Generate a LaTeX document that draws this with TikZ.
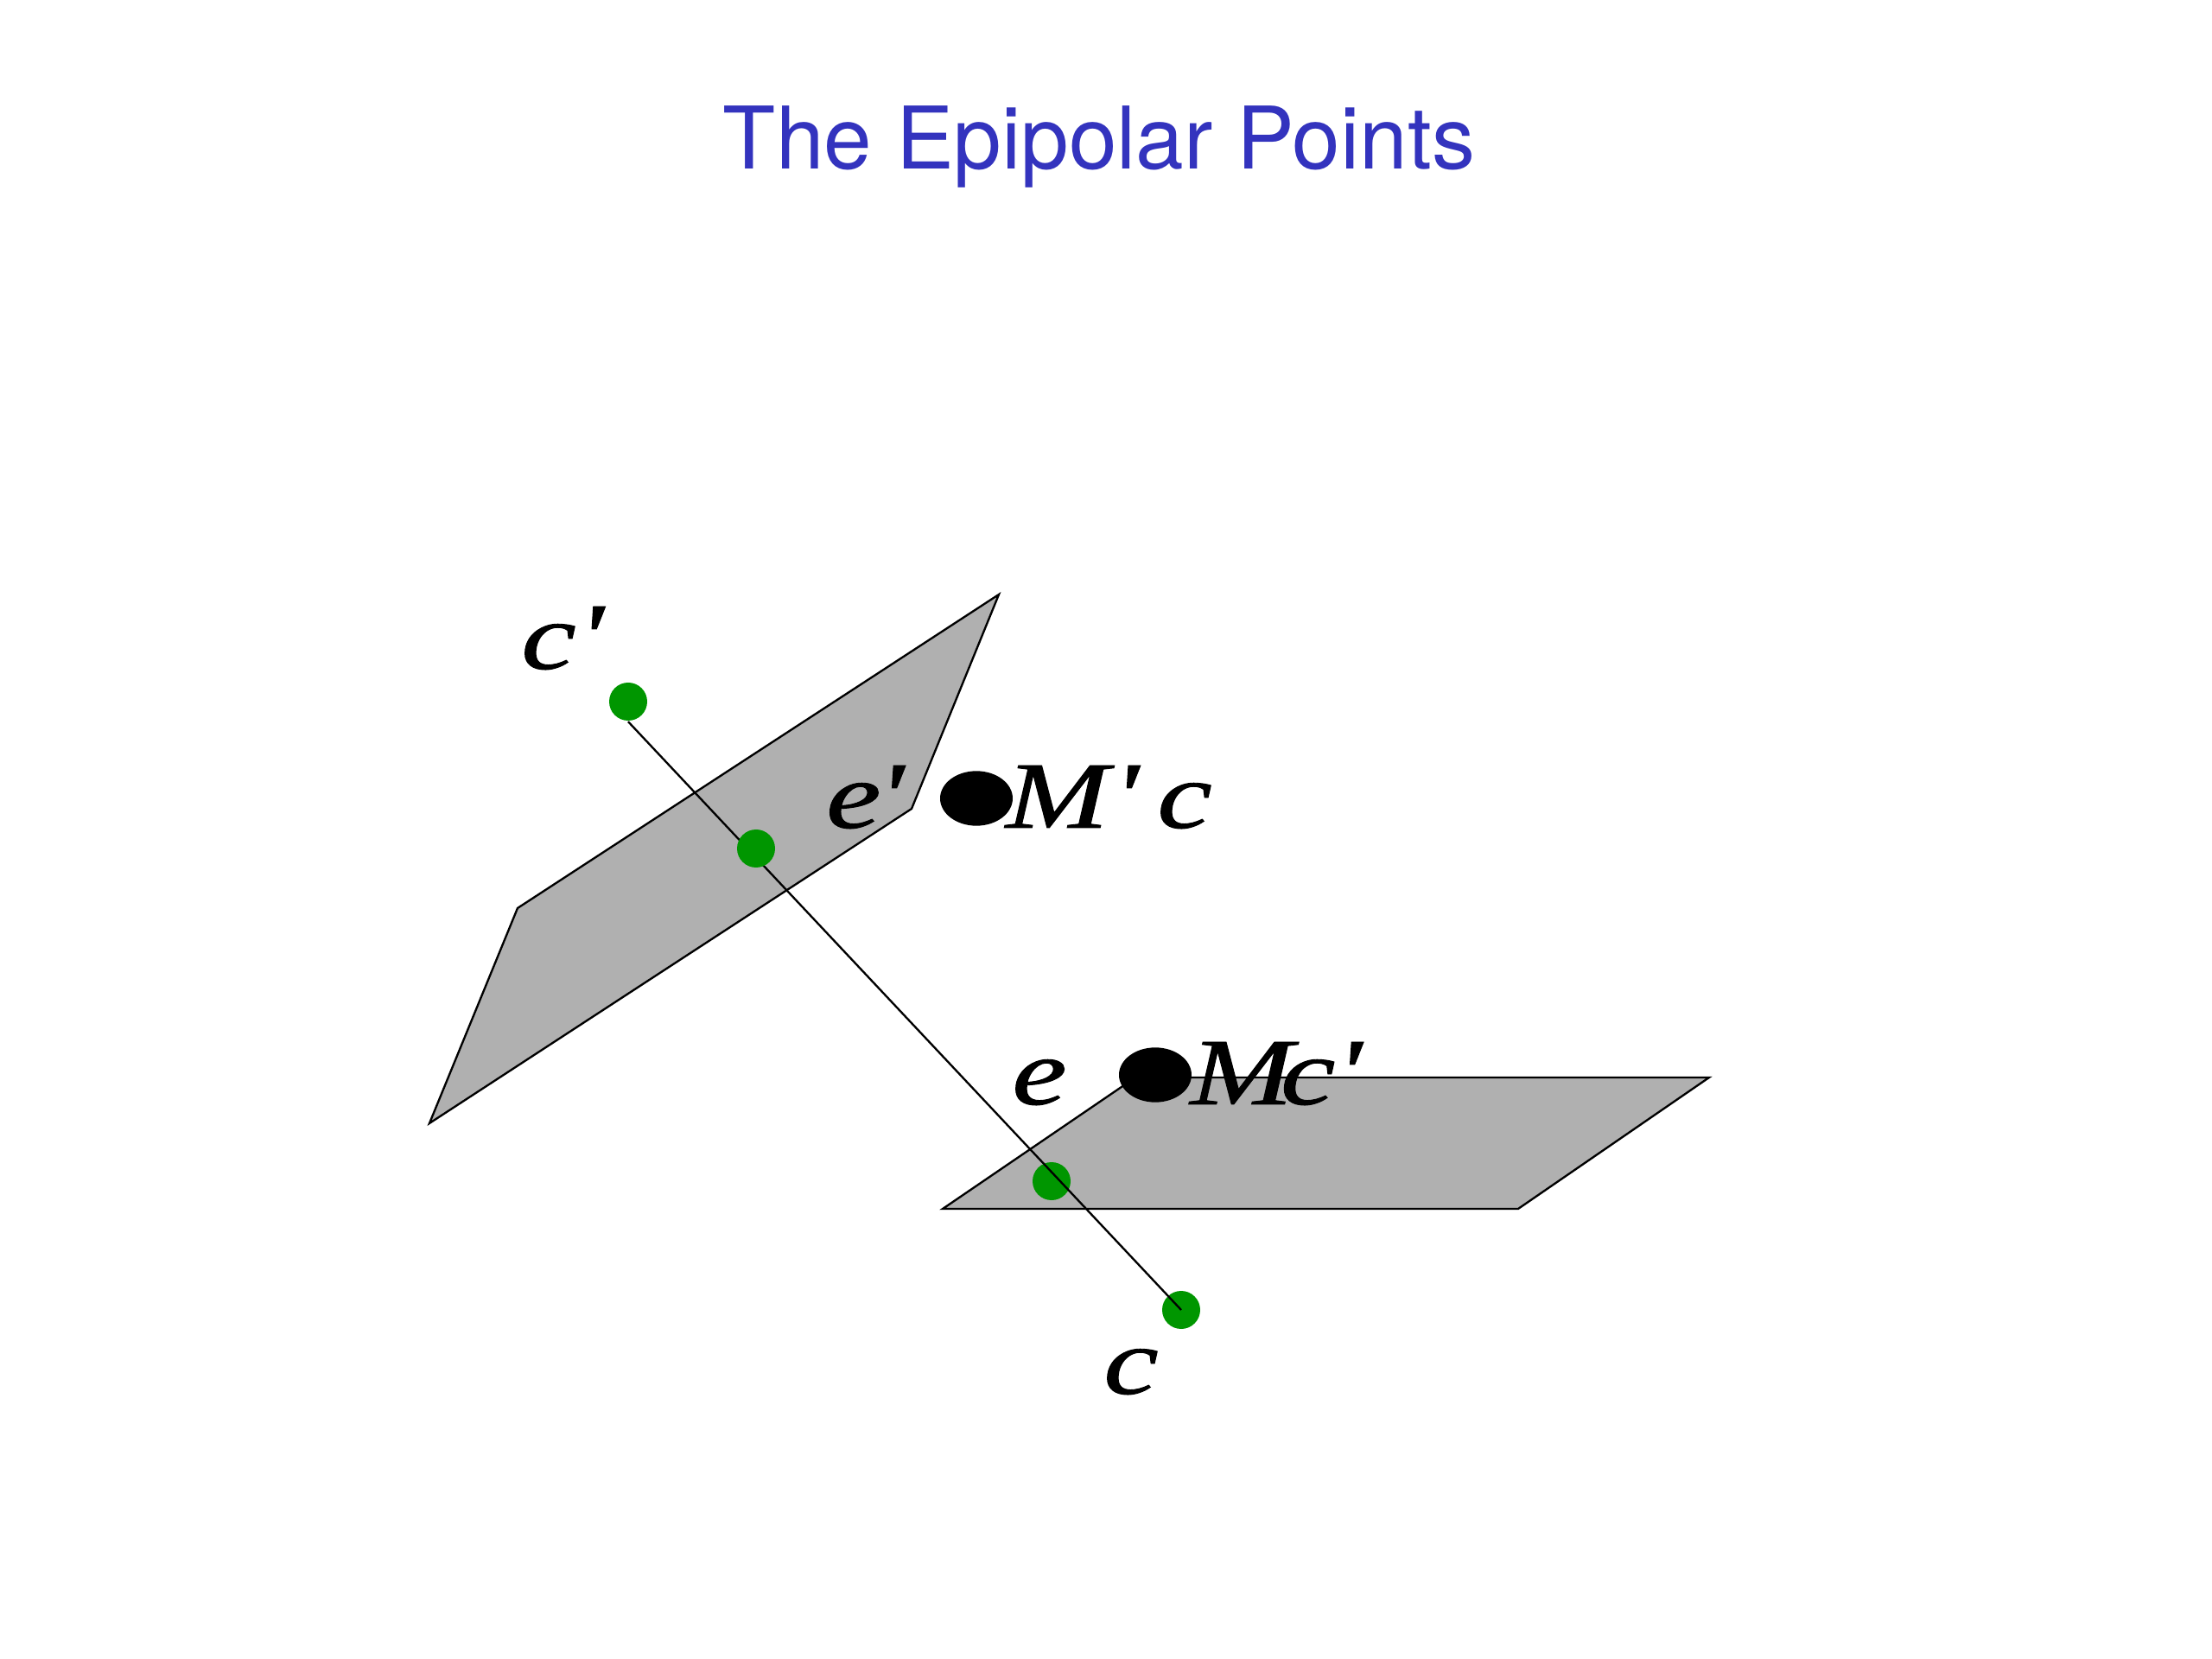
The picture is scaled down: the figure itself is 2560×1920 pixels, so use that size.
\documentclass[tikz,border=0pt]{standalone}
\usepackage{fontspec}
\usetikzlibrary{shapes.geometric}
\setsansfont{TeX Gyre Heros}
\newfontfamily\labelfont[FakeBold=0.8]{Liberation Serif}
\definecolor{titleblue}{RGB}{51,51,190}
\definecolor{planegray}{RGB}{176,176,176}
\definecolor{dotgreen}{RGB}{0,150,0}
\tikzset{every picture/.style={line width=0.7pt},
  plane/.style={draw=black,fill=planegray,line join=miter},
  greendot/.style={circle,fill=dotgreen,inner sep=0pt,minimum size=13.2pt},
  blackdot/.style={ellipse,fill=black,inner sep=0pt,minimum width=25.2pt,minimum height=19pt},
  ptlabel/.style={anchor=base,inner sep=0pt,xscale=1.3,font=\fontsize{33}{36}\labelfont\itshape}
}

\begin{document}
\begin{tikzpicture}[x=0.3pt,y=0.3pt,yscale=-1,xscale=1]
\useasboundingbox (0,0) rectangle (2560,1920);

% Title
\node (title) at (1272,196) [anchor=base,inner sep=0pt,text=titleblue,font=\fontsize{30}{36}\sffamily] {The Epipolar Points};

%Shape: Parallelogram
\draw [plane] (1156,688) -- (1055,936) -- (497,1300) -- (599,1051) -- cycle;
%Shape: Parallelogram
\draw [plane] (1091,1399) -- (1757,1399) -- (1978,1247) -- (1314,1247) -- cycle;

%Shape: Circle
\node (cdot) at (1367,1516) [greendot] {};
\node (edot) at (1217,1367) [greendot] {};
\node (cpdot) at (727,812) [greendot] {};
%Straight Lines
\draw (cpdot.south) -- (cdot.center);
\node (epdot) at (875,982) [greendot] {};

%Shape: Ellipse
\node (mpdot) at (1130,924) [blackdot] {};
\node (mdot) at (1337,1244) [blackdot] {};

% Text Node
\node (cplabel) at (651,774) [ptlabel] {c\kern.01em'};
% Text Node
\node (eplabel) at (1001,958) [ptlabel] {e\kern-.03em'};
% Text Node
\node (mplabel) at (1241,958) [ptlabel] {M\kern.03em'};
% Text Node
\node (clabel) at (1371,958) [ptlabel] {c};
% Text Node
\node (elabel) at (1203,1278) [ptlabel] {e};
% Text Node
\node (mlabel) at (1437,1278) [ptlabel] {M};
% Text Node
\node (cprlabel) at (1529,1278) [ptlabel] {c'};
% Text Node
\node (cbotlabel) at (1309,1613) [ptlabel] {c};

\end{tikzpicture}
\end{document}
